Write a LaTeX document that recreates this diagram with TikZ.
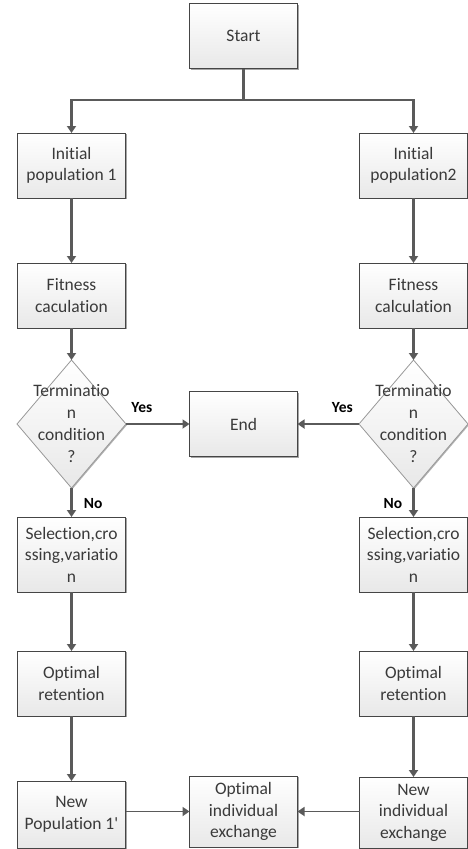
\documentclass[tikz,border=0pt]{standalone}
\usepackage{fontspec}
\setmainfont{Carlito}
\newfontfamily\boxfont{Carlito}[Ligatures=NoCommon]
\usetikzlibrary{positioning,shapes.geometric,arrows.meta,shadows}
\definecolor{linegray}{HTML}{5A5A5A}
\definecolor{boxedge}{HTML}{454545}
\definecolor{textgray}{HTML}{3A3A3A}

\begin{document}
\begin{tikzpicture}[x=1pt,y=1pt,node distance=65pt,
stepbox/.style={
  font={\boxfont\color{textgray}\fontsize{17.5pt}{21.5pt}\selectfont},
  align=center,
  draw=boxedge,
  line width=0.8pt,
  top color=white,
  bottom color=gray!18,
  drop shadow={shadow xshift=1.2pt,shadow yshift=-1.2pt,fill=gray!70,opacity=1},
  minimum width=108pt,
  minimum height=65pt,
  inner sep=2pt,
  outer sep=0pt},
tallbox/.style={
  stepbox,
  minimum height=71pt},
decision/.style={
  diamond,
  draw=gray!80,
  line width=0.8pt,
  top color=white,
  bottom color=gray!18,
  drop shadow={shadow xshift=1pt,shadow yshift=-1pt,fill=gray!60,opacity=1},
  minimum width=109pt,
  minimum height=128pt,
  inner sep=0pt,
  outer sep=0pt},
dectext/.style={
  font={\boxfont\color{textgray}\fontsize{17.5pt}{22pt}\selectfont},
  align=center,
  inner sep=0pt},
answer/.style={
  font={\boxfont\color{black}\bfseries\fontsize{15.5pt}{18pt}\selectfont},
  inner sep=1pt},
flow/.style={
  draw=linegray,
  line width=2.8pt,
  -{Triangle[width=9pt,length=7pt]}},
side/.style={
  flow,
  line width=1.8pt},
]
\useasboundingbox (0,0) rectangle (468,-849);

\node[stepbox] (start) at (243.5,-36) {Start};
\coordinate (split) at (243.5,-100);

% left branch
\node[stepbox] (init1) at (71.5,-165.5) {Initial\\population 1};
\node[stepbox,below=of init1] (fit1) {Fitness\\caculation};
\node[decision,below=32pt of fit1] (term1) {};
\node[dectext] (q1) at (term1) {Terminatio\\n\\condition\\?};
\node[tallbox,minimum height=75pt,below=29pt of term1] (sel1) {Selection,cro\\ssing,variatio\\n};
\node[stepbox,below=59pt of sel1] (keep1) {Optimal\\retention};
\node[stepbox,minimum height=67pt,below=of keep1] (new1) {New\\Population 1'};

% right branch
\node[stepbox] (init2) at (413.5,-165.5) {Initial\\population2};
\node[stepbox,below=of init2] (fit2) {Fitness\\calculation};
\node[decision,below=32pt of fit2] (term2) {};
\node[dectext] (q2) at (term2) {Terminatio\\n\\condition\\?};
\node[tallbox,minimum height=75pt,below=29pt of term2] (sel2) {Selection,cro\\ssing,variatio\\n};
\node[stepbox,below=59pt of sel2] (keep2) {Optimal\\retention};
\node[tallbox,below=61pt of keep2] (new2) {New\\individual\\exchange};

% middle
\node[stepbox] (end) at (243.5,-424) {End};
\node[tallbox] (swap) at (243.5,-811.5) {Optimal\\individual\\exchange};

\draw[flow,-] (start) -- (split);
\draw[flow] (split) -| (init1);
\draw[flow] (split) -| (init2);

\draw[flow] (init1) -- (fit1);
\draw[flow] (fit1) -- (term1);
\draw[flow] (term1) -- node[answer,pos=0.55,right=10pt] (no1) {No} (sel1);
\draw[flow] (sel1) -- (keep1);
\draw[flow] (keep1) -- (new1);

\draw[flow] (init2) -- (fit2);
\draw[flow] (fit2) -- (term2);
\draw[flow] (term2) -- node[answer,pos=0.55,left=9pt] (no2) {No} (sel2);
\draw[flow] (sel2) -- (keep2);
\draw[flow] (keep2) -- (new2);

\draw[side] (term1.east) -- node[answer,pos=0.25,above=9pt] (yes1) {Yes} (end.west);
\draw[side] (term2.west) -- node[answer,pos=0.27,above=9pt] (yes2) {Yes} (end.east);
\draw[side] (new1.east |- swap) -- (swap.west);
\draw[side] (new2.west |- swap) -- (swap.east);

\end{tikzpicture}
\end{document}
